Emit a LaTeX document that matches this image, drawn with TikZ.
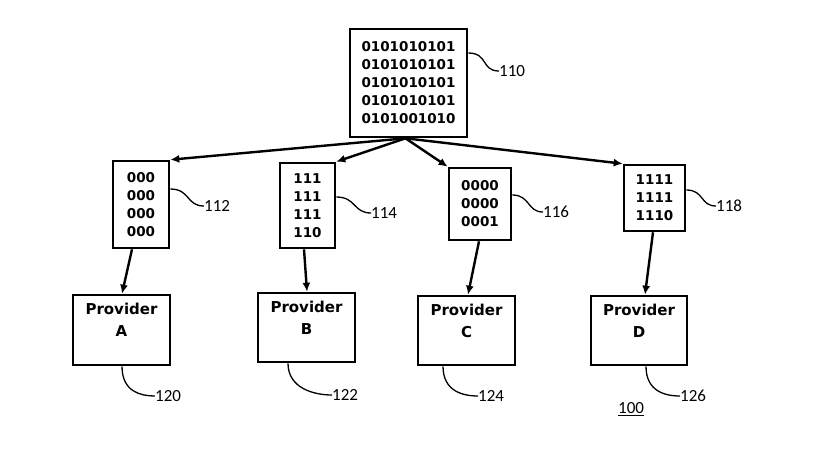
\documentclass[tikz,border=0pt]{standalone}
\usepackage{fontspec}
\setmainfont{Carlito}
\newfontfamily\boxfont{DejaVu Sans}
\usetikzlibrary{arrows.meta,calc}
\begin{document}
\begin{tikzpicture}[x=1pt,y=-1pt,
  databox/.style={draw, line width=2.6pt, align=center, inner sep=0pt,
    font=\boxfont\bfseries\fontsize{13.5}{18}\selectfont},
  provbox/.style={draw, line width=2.6pt, inner sep=0pt},
  provtext/.style={anchor=north, align=center, inner sep=0pt,
    font=\boxfont\bfseries\fontsize{15}{22}\selectfont},
  reflabel/.style={font=\fontsize{17}{20}\selectfont, inner sep=0pt, anchor=west},
  leader/.style={line width=1.3pt},
  conn/.style={line width=2.4pt, -{Latex[length=9pt,width=8pt]}}
]
\useasboundingbox (0,0) rectangle (818,456);

% top box
\node[databox, minimum width=117pt, minimum height=108pt] (n110) at (408.5,83)
  {0101010101\\0101010101\\0101010101\\0101010101\\0101001010};

% second row
\node[databox, minimum width=56pt, minimum height=87pt] (n112) at (141,204.5)
  {000\\000\\000\\000};
\node[databox, minimum width=55pt, minimum height=85pt] (n114) at (307.5,205.5)
  {111\\111\\111\\110};
\node[databox, minimum width=62pt, minimum height=72pt] (n116) at (480,204)
  {0000\\0000\\0001};
\node[databox, minimum width=61pt, minimum height=66pt] (n118) at (654.5,198)
  {1111\\1111\\1110};

% providers
\node[provbox, minimum width=97pt, minimum height=70pt] (pA) at (121.5,330) {};
\node[provbox, minimum width=97pt, minimum height=69pt] (pB) at (306.5,327.5) {};
\node[provbox, minimum width=97pt, minimum height=69pt] (pC) at (466.5,330.5) {};
\node[provbox, minimum width=96pt, minimum height=69pt] (pD) at (639,330.5) {};
\node[provtext] (tA) at ($(pA.north)+(0,9)$) {Provider\\A};
\node[provtext] (tB) at ($(pB.north)+(0,9)$) {Provider\\B};
\node[provtext] (tC) at ($(pC.north)+(0,9)$) {Provider\\C};
\node[provtext] (tD) at ($(pD.north)+(0,9)$) {Provider\\D};

% reference labels
\node[reflabel] (l110) at (499,71) {110};
\node[reflabel] (l112) at (204,206) {112};
\node[reflabel] (l114) at (371,213) {114};
\node[reflabel] (l116) at (543,212) {116};
\node[reflabel] (l118) at (716,206) {118};
\node[reflabel] (l120) at (155,396) {120};
\node[reflabel] (l122) at (332,395) {122};
\node[reflabel] (l124) at (478,396) {124};
\node[reflabel] (l126) at (680,396) {126};
\node[reflabel] (l100) at (618,409) {\underline{100}};

% connectors from top box
\draw[conn] ($(n110.south)+(-3,0)$) -- (n112.north east);
\draw[conn] ($(n110.south)+(-3,0)$) -- (n114.north east);
\draw[conn] ($(n110.south)+(-3,0)$) -- (n116.north west);
\draw[conn] ($(n110.south)+(-3,0)$) -- (n118.north west);

% connectors to providers
\draw[conn] ($(n112.south)+(-9,0)$) -- ($(pA.north)+(0.5,0)$);
\draw[conn] ($(n114.south)+(-3.5,0)$) -- ($(pB.north)+(0.5,0)$);
\draw[conn] ($(n116.south)+(-1,0)$) -- ($(pC.north)+(1.5,0)$);
\draw[conn] ($(n118.south)+(-1.5,0)$) -- ($(pD.north)+(6,0)$);

% leaders
\draw[leader] ($(n110.east)+(0,-30)$) .. controls +(20,0) and +(-18,0) .. (l110.west);
\draw[leader] ($(n112.east)+(0,-15.5)$) .. controls +(20,0) and +(-18,0) .. (l112.west);
\draw[leader] ($(n114.east)+(0,-8.5)$) .. controls +(20,0) and +(-18,0) .. (l114.west);
\draw[leader] ($(n116.east)+(0,-9)$) .. controls +(18,0) and +(-16,0) .. (l116.west);
\draw[leader] ($(n118.east)+(0,-8)$) .. controls +(18,0) and +(-16,0) .. (l118.west);
\draw[leader] ($(pA.south)+(0.5,0)$) .. controls +(0,25) and +(-15,0) .. (l120.west);
\draw[leader] ($(pB.south)+(-18.5,0)$) .. controls +(0,25) and +(-18,0) .. (l122.west);
\draw[leader] ($(pC.south)+(-23.5,0)$) .. controls +(0,25) and +(-15,0) .. (l124.west);
\draw[leader] ($(pD.south)+(7,0)$) .. controls +(0,25) and +(-15,0) .. (l126.west);
\end{tikzpicture}
\end{document}
